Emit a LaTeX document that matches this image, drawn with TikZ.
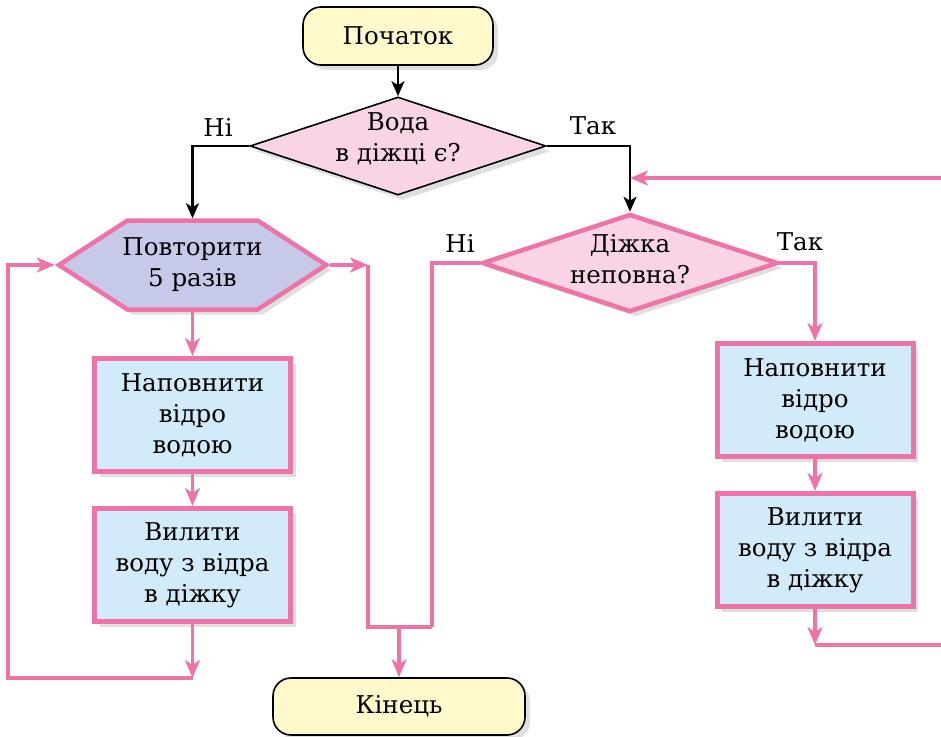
\documentclass[tikz,border=0pt]{standalone}
\usepackage{fontspec}
\setmainfont{DejaVu Serif}
\usetikzlibrary{shapes.geometric,shapes.symbols,arrows.meta,shadows}
\definecolor{pk}{HTML}{EE74A8}
\definecolor{pkfill}{HTML}{F9D4E6}
\definecolor{yel}{HTML}{FFF9CB}
\definecolor{lav}{HTML}{C6CAE8}
\definecolor{blu}{HTML}{D1EBFA}
\begin{document}
\begin{tikzpicture}[x=1pt,y=-1pt,
  font=\fontsize{24.5}{31}\selectfont,
  shad/.style={drop shadow={shadow xshift=5pt,shadow yshift=-5pt,opacity=0.25}},
  term/.style={rectangle,rounded corners=18pt,draw=black,line width=1.6pt,fill=yel,
    minimum width=190pt,minimum height=58pt,inner sep=0pt,shad},
  proc/.style={rectangle,draw=pk,line width=5pt,fill=blu,minimum width=196pt,
    minimum height=113pt,inner sep=0pt,align=center,shad},
  dia/.style={diamond,fill=pkfill,inner sep=0pt,shad},
  txt/.style={align=center,inner sep=0pt},
  lbl/.style={inner sep=0pt},
  blk/.style={draw=black,line width=2.4pt,-{Stealth[length=15pt,width=13pt,inset=4pt]}},
  pline/.style={draw=pk,line width=3.6pt},
  parr/.style={pline,-{Stealth[length=18pt,width=15pt,inset=5pt]}}
]
\useasboundingbox (0,0) rectangle (941,736);

% nodes
\node[term] (start) at (398,36) {Початок};
\node[dia,draw=black,line width=1.6pt,minimum width=296pt,minimum height=98pt] (d1) at (398,146) {};
\node[txt] (d1t) at (398,139) {Вода\\в діжці є?};
\node[signal,signal to=west and east,signal pointer angle=66,draw=pk,line width=4.5pt,
  fill=lav,minimum height=89pt,inner xsep=-5pt,inner ysep=0pt,align=center,shad] (hex) at (192.5,265) {Повторити\\5 разів};
\node[proc] (b1L) at (192.5,415) {Наповнити\\відро\\водою};
\node[proc] (b2L) at (192.5,565) {Вилити\\воду з відра\\в діжку};
\node[dia,draw=pk,line width=4.5pt,minimum width=296pt,minimum height=98pt] (d2) at (630,263) {};
\node[txt] (d2t) at (630,259) {Діжка\\неповна?};
\node[proc] (b1R) at (815,400) {Наповнити\\відро\\водою};
\node[proc] (b2R) at (815,550) {Вилити\\воду з відра\\в діжку};
\node[term,minimum width=252pt,minimum height=57pt] (end) at (399,706.5) {Кінець};

% labels
\node[lbl] (l1) at (218,127) {Ні};
\node[lbl] (l2) at (593,126) {Так};
\node[lbl] (l3) at (460,243) {Ні};
\node[lbl] (l4) at (800,242) {Так};

% coordinates
\coordinate (inR) at (941,178);
\coordinate (mR) at (368,265);
\coordinate (mB) at (368,627);
\coordinate (mC) at (399,627);
\coordinate (mD) at (432,627);
\coordinate (lBL) at (8,678);
\coordinate (rB) at (941,645);

% black connectors
\draw[blk] (start.south) -- (d1.north);
\draw[blk] (d1.west) -| (hex.north);
\draw[blk] (d1.east) -| (d2.north);

% pink connectors
\draw[parr] (inR) -- (inR -| d2.north);
\draw[parr] (hex.east) -- (mR);
\draw[pline] (mR) -- (mB) -- (mD);
\draw[pline] (d2.west) -| (mD);
\draw[parr] (mC) -- (end.north);
\draw[parr] (hex.south) -- (b1L.north);
\draw[parr] (b1L.south) -- (b2L.north);
\draw[parr] (b2L.south) -- (b2L.south |- lBL);
\draw[parr] (b2L.south |- lBL) -- (lBL) |- (hex.west);
\draw[parr] (d2.east) -| (b1R.north);
\draw[parr] (b1R.south) -- (b2R.north);
\draw[parr] (b2R.south) -- (b2R.south |- rB);
\draw[pline] (b2R.south |- rB) -- (rB);
\end{tikzpicture}
\end{document}
